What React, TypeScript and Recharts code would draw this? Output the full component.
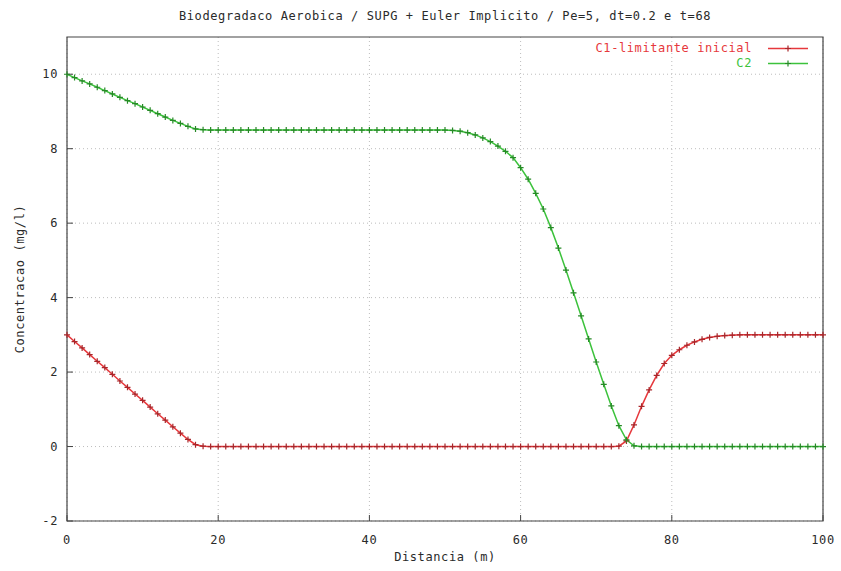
import React from 'react';
import {
  LineChart,
  Line,
  XAxis,
  YAxis,
  CartesianGrid,
  ReferenceArea,
  Legend,
} from 'recharts';

// Distance along the domain (m)
const distances = [
  0, 1, 2, 3, 4, 5, 6, 7, 8, 9, 10, 11, 12, 13, 14, 15, 16, 17, 18, 19,
  20, 21, 22, 23, 24, 25, 26, 27, 28, 29, 30, 31, 32, 33, 34, 35, 36, 37, 38, 39,
  40, 41, 42, 43, 44, 45, 46, 47, 48, 49, 50, 51, 52, 53, 54, 55, 56, 57, 58, 59,
  60, 61, 62, 63, 64, 65, 66, 67, 68, 69, 70, 71, 72, 73, 74, 75, 76, 77, 78, 79,
  80, 81, 82, 83, 84, 85, 86, 87, 88, 89, 90, 91, 92, 93, 94, 95, 96, 97, 98, 99,
  100,
];

// C1 - limiting substrate, initial profile (mg/l)
const c1Values = [
  3.0, 2.82, 2.65, 2.47, 2.29, 2.12, 1.94, 1.76, 1.59, 1.41,
  1.24, 1.06, 0.88, 0.71, 0.53, 0.36, 0.19, 0.05, 0.01, 0,
  0, 0, 0, 0, 0, 0, 0, 0, 0, 0,
  0, 0, 0, 0, 0, 0, 0, 0, 0, 0,
  0, 0, 0, 0, 0, 0, 0, 0, 0, 0,
  0, 0, 0, 0, 0, 0, 0, 0, 0, 0,
  0, 0, 0, 0, 0, 0, 0, 0, 0, 0,
  0, 0, 0, 0.01, 0.15, 0.58, 1.08, 1.52, 1.91, 2.23,
  2.45, 2.6, 2.72, 2.81, 2.88, 2.93, 2.96, 2.98, 2.99, 3.0,
  3.0, 3.0, 3.0, 3.0, 3.0, 3.0, 3.0, 3.0, 3.0, 3.0,
  3.0,
];

// C2 (mg/l)
const c2Values = [
  10.0, 9.91, 9.82, 9.74, 9.65, 9.56, 9.47, 9.38, 9.29, 9.21,
  9.12, 9.03, 8.94, 8.85, 8.76, 8.68, 8.6, 8.53, 8.51, 8.5,
  8.5, 8.5, 8.5, 8.5, 8.5, 8.5, 8.5, 8.5, 8.5, 8.5,
  8.5, 8.5, 8.5, 8.5, 8.5, 8.5, 8.5, 8.5, 8.5, 8.5,
  8.5, 8.5, 8.5, 8.5, 8.5, 8.5, 8.5, 8.5, 8.5, 8.5,
  8.5, 8.49, 8.47, 8.43, 8.37, 8.29, 8.19, 8.07, 7.93, 7.76,
  7.49, 7.18, 6.8, 6.38, 5.88, 5.33, 4.74, 4.13, 3.51, 2.89,
  2.27, 1.67, 1.09, 0.56, 0.18, 0.02, 0, 0, 0, 0,
  0, 0, 0, 0, 0, 0, 0, 0, 0, 0,
  0, 0, 0, 0, 0, 0, 0, 0, 0, 0,
  0,
];

const xTicks = [0, 20, 40, 60, 80, 100];
const yTicks = [-2, 0, 2, 4, 6, 8, 10];

const titleText = 'Biodegradaco Aerobica / SUPG + Euler Implicito / Pe=5, dt=0.2 e t=68';
const xLabelText = 'Distancia (m)';
const yLabelText = 'Concentracao (mg/l)';
const c1Name = 'C1-limitante inicial';
const c2Name = 'C2';

const data = distances.map((x, i) => ({ x, c1: c1Values[i], c2: c2Values[i] }));

const FONT = '"DejaVu Sans Mono", "Liberation Mono", monospace';
const TEXT_COLOR = '#2a2a2a';
const RED = '#e6383c';
const RED_MARK = '#a8262a';
const GREEN = '#3cc23c';
const GREEN_MARK = '#268a26';

const tickStyle = { fontFamily: FONT, fontSize: 12, fill: TEXT_COLOR, letterSpacing: 0.6 };

const crossDot = (color: string) => (props: any) => {
  const { cx, cy, index } = props;
  if (cx == null || cy == null) return <g key={`d${index}`} />;
  return (
    <path
      key={`d${index}`}
      d={`M${cx - 3},${cy}h6M${cx},${cy - 3}v6`}
      stroke={color}
      strokeWidth={1.2}
      fill="none"
    />
  );
};

const XLabel = (props: any) => {
  const vb = props.viewBox || {};
  return (
    <text
      x={vb.x + vb.width / 2}
      y={vb.y + 36}
      textAnchor="middle"
      dominantBaseline="central"
      style={tickStyle}
    >
      {xLabelText}
    </text>
  );
};

const YLabel = (props: any) => {
  const vb = props.viewBox || {};
  const cx = vb.x + 20;
  const cy = vb.y + vb.height / 2;
  return (
    <text
      x={cx}
      y={cy}
      transform={`rotate(-90 ${cx} ${cy})`}
      textAnchor="middle"
      dominantBaseline="central"
      style={tickStyle}
    >
      {yLabelText}
    </text>
  );
};

const LegendBox = (props: any) => {
  const payload = props.payload || [];
  return (
    <div style={{ fontFamily: FONT, fontSize: 12, letterSpacing: 0.6 }}>
      {payload.map((entry: any) => {
        const mark = entry.dataKey === 'c1' ? RED_MARK : GREEN_MARK;
        return (
          <div
            key={entry.value}
            style={{
              display: 'flex',
              alignItems: 'center',
              justifyContent: 'flex-end',
              height: 15,
              lineHeight: '15px',
            }}
          >
            <span style={{ color: entry.color }}>{entry.value}</span>
            <svg width={40} height={9} style={{ marginLeft: 16, display: 'block' }}>
              <line x1={0} y1={4.5} x2={40} y2={4.5} stroke={entry.color} strokeWidth={1.5} />
              <path d="M17,4.5h6M20,1.5v6" stroke={mark} strokeWidth={1.2} />
            </svg>
          </div>
        );
      })}
    </div>
  );
};

export default function App() {
  return (
    <div style={{ position: 'absolute', left: 0, top: 0, width: 841, height: 571, background: '#fff' }}>
      <div
        style={{
          position: 'absolute',
          left: 0,
          top: 8,
          width: 890,
          height: 16,
          lineHeight: '16px',
          textAlign: 'center',
          fontFamily: FONT,
          fontSize: 12,
          letterSpacing: 0.6,
          color: TEXT_COLOR,
          whiteSpace: 'nowrap',
          zIndex: 1,
        }}
      >
        {titleText}
      </div>
      <LineChart
        width={841}
        height={571}
        data={data}
        margin={{ top: 37, right: 18, bottom: 0, left: 0 }}
      >
        <CartesianGrid
          stroke="#bdbdbd"
          strokeDasharray="1 3"
          verticalValues={xTicks}
          horizontalValues={yTicks}
        />
        <XAxis
          dataKey="x"
          type="number"
          domain={[0, 100]}
          ticks={xTicks}
          height={50}
          axisLine={false}
          tickSize={-6}
          tickMargin={20}
          tickLine={{ stroke: '#444' }}
          tick={tickStyle}
          interval={0}
          label={{ content: XLabel }}
        />
        <XAxis
          xAxisId="top"
          orientation="top"
          dataKey="x"
          type="number"
          domain={[0, 100]}
          ticks={xTicks}
          height={0}
          axisLine={false}
          tickSize={-6}
          tickLine={{ stroke: '#444' }}
          tickFormatter={() => ''}
          interval={0}
        />
        <YAxis
          type="number"
          domain={[-2, 11]}
          ticks={yTicks}
          width={67}
          axisLine={false}
          tickSize={-6}
          tickMargin={15}
          tickLine={{ stroke: '#444' }}
          tick={tickStyle}
          interval={0}
          label={{ content: YLabel }}
        />
        <YAxis
          yAxisId="right"
          orientation="right"
          type="number"
          domain={[-2, 11]}
          ticks={yTicks}
          width={0}
          axisLine={false}
          tickSize={-6}
          tickLine={{ stroke: '#444' }}
          tickFormatter={() => ''}
          interval={0}
        />
        <ReferenceArea x1={0} x2={100} y1={-2} y2={11} fill="none" stroke="#444" strokeWidth={1.2} />
        <Legend
          layout="vertical"
          align="center"
          verticalAlign="middle"
          content={LegendBox}
          wrapperStyle={{ position: 'absolute', left: 548, top: 41, width: 260, height: 30 }}
        />
        <Line
          dataKey="c1"
          name={c1Name}
          stroke={RED}
          strokeWidth={1.5}
          type="linear"
          dot={crossDot(RED_MARK)}
          activeDot={false}
          isAnimationActive={false}
        />
        <Line
          dataKey="c2"
          name={c2Name}
          stroke={GREEN}
          strokeWidth={1.5}
          type="linear"
          dot={crossDot(GREEN_MARK)}
          activeDot={false}
          isAnimationActive={false}
        />
      </LineChart>
    </div>
  );
}
